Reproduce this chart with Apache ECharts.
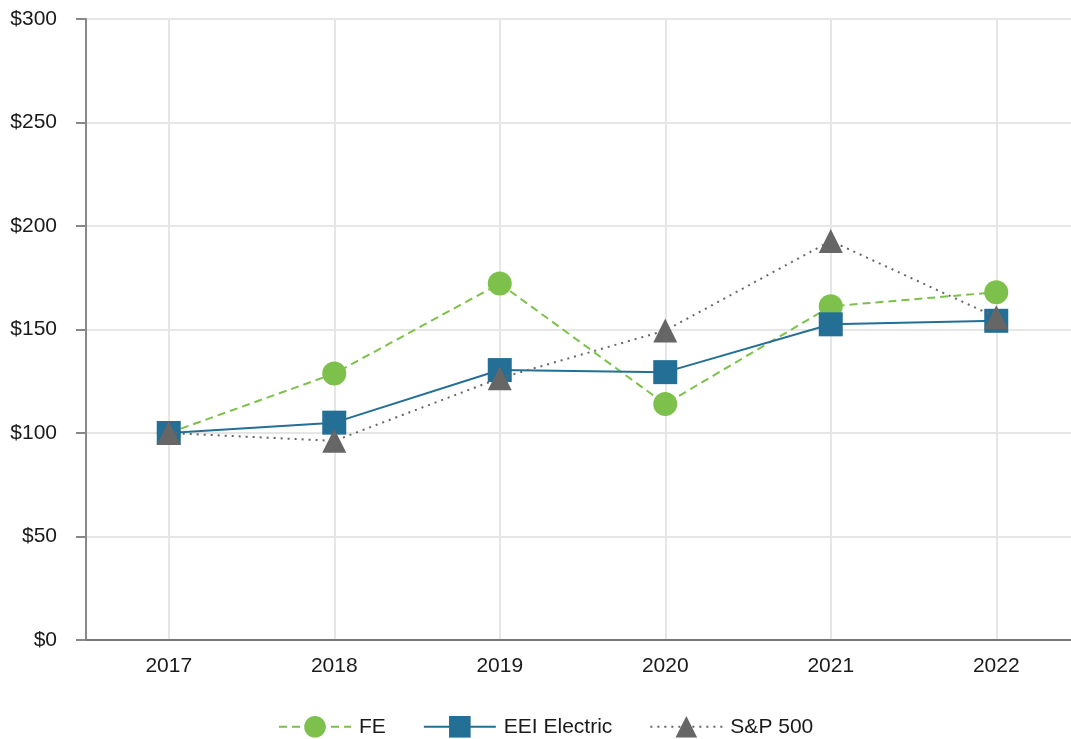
<!DOCTYPE html>
<html>
<head>
<meta charset="utf-8">
<style>
  html, body { margin: 0; padding: 0; background: #ffffff; }
  #chart { width: 1071px; height: 739px; }
</style>
<script src="https://cdn.jsdelivr.net/npm/echarts@6/dist/echarts.min.js"></script>
</head>
<body>
<div id="chart"></div>
<script>
const years = ['2017', '2018', '2019', '2020', '2021', '2022'];
const feValues = [100, 128.7, 172.2, 114.0, 161.2, 168.0];
const eeiValues = [100, 105.0, 130.4, 129.4, 152.5, 154.2];
const spValues = [100, 96.2, 126.5, 149.5, 192.8, 155.9];
const yTicks = [0, 50, 100, 150, 200, 250, 300];

const FONT = '"Liberation Sans", Arial, sans-serif';
const chart = echarts.init(document.getElementById('chart'), null, { renderer: 'canvas' });

chart.setOption({
  animation: false,
  backgroundColor: '#ffffff',
  textStyle: { fontFamily: FONT },
  grid: { left: 86, top: 19, right: -8, bottom: 99, containLabel: false, outerBoundsMode: 'none' },
  legend: {
    left: 273,
    top: 711,
    itemWidth: 72,
    itemHeight: 27,
    itemGap: 37,
    textStyle: { fontFamily: FONT, fontSize: 21, color: '#1a1a1a', padding: [0, 0, 0, 3] },
    data: ['FE', 'EEI Electric', 'S&P 500']
  },
  xAxis: {
    type: 'category',
    data: years,
    boundaryGap: true,
    axisLine: { lineStyle: { color: '#777777', width: 2 } },
    axisTick: { alignWithLabel: true, length: 9, lineStyle: { color: '#777777', width: 2 } },
    axisLabel: { fontFamily: FONT, fontSize: 21, color: '#1a1a1a', margin: 16 },
    splitLine: { show: true, alignWithLabel: true, lineStyle: { color: '#e6e6e6', width: 2 } }
  },
  yAxis: {
    type: 'value',
    min: yTicks[0],
    max: yTicks[yTicks.length - 1],
    interval: yTicks[1] - yTicks[0],
    axisLine: { show: true, lineStyle: { color: '#888888', width: 2 } },
    axisTick: { show: true, length: 10, lineStyle: { color: '#888888', width: 2 } },
    axisLabel: { fontFamily: FONT, fontSize: 21, color: '#1a1a1a', margin: 29, formatter: v => '$' + v },
    splitLine: { show: true, lineStyle: { color: '#e6e6e6', width: 2 } }
  },
  series: [
    {
      name: 'FE', type: 'line', data: feValues,
      symbol: 'circle', symbolSize: 24,
      itemStyle: { color: '#7DC04B' },
      lineStyle: { color: '#7DC04B', width: 2, type: [8, 5] },
      z: 3
    },
    {
      name: 'EEI Electric', type: 'line', data: eeiValues,
      symbol: 'rect', symbolSize: 24,
      itemStyle: { color: '#236F95' },
      lineStyle: { color: '#236F95', width: 2, type: 'solid' },
      z: 4
    },
    {
      name: 'S&P 500', type: 'line', data: spValues,
      symbol: 'triangle', symbolSize: 24,
      itemStyle: { color: '#666666' },
      lineStyle: { color: '#666666', width: 2, type: [2, 5] },
      z: 5
    }
  ]
});
</script>
</body>
</html>
